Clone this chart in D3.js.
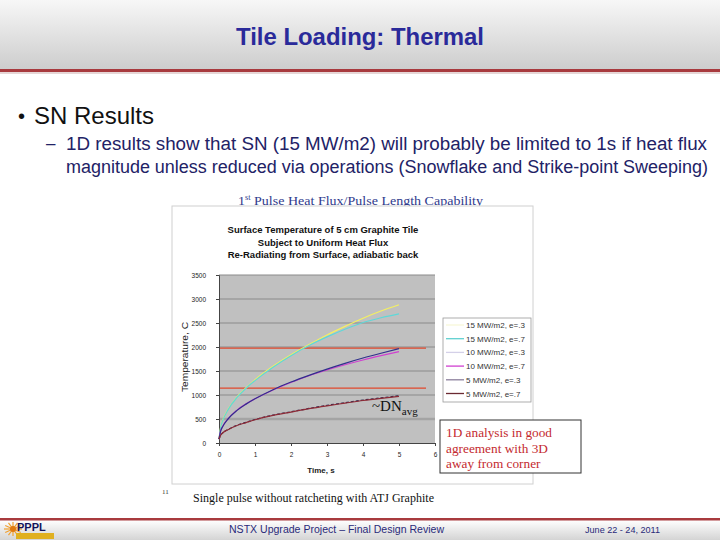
<!DOCTYPE html>
<html>
<head>
<meta charset="utf-8">
<script src="https://d3js.org/d3.v7.min.js"></script>
<style>
  body { margin: 0; background: #fff; }
  text { font-family: "Liberation Sans", Arial, sans-serif; }
  .serif { font-family: "Liberation Serif", "Times New Roman", serif; }
</style>
</head>
<body>
<div id="slide"></div>
<script>
// slide size
var width = 720,
  height = 540;

// chart data
var times = [0, 0.05, 0.1, 0.25, 0.5, 0.75, 1, 1.5, 2, 2.5, 3, 3.5, 4, 4.5, 5];
var flux15e3 = [80, 350, 470, 700, 960, 1150, 1320, 1600, 1840, 2050, 2250, 2430, 2600, 2750, 2880];
var flux15e7 = [80, 340, 460, 690, 950, 1140, 1300, 1580, 1820, 2030, 2210, 2370, 2510, 2610, 2690];
var flux10e3 = [80, 260, 340, 500, 680, 810, 920, 1110, 1270, 1410, 1540, 1660, 1770, 1870, 1965];
var flux10e7 = [80, 265, 345, 505, 685, 815, 920, 1105, 1260, 1400, 1520, 1630, 1730, 1820, 1905];
var flux5e3 = [80, 170, 210, 280, 370, 430, 490, 580, 650, 720, 785, 840, 895, 940, 985];
var flux5e7 = [80, 168, 208, 278, 365, 425, 485, 575, 645, 715, 775, 830, 885, 930, 970];

var seriesNames = ["15 MW/m2, e=.3", "15 MW/m2, e=.7", "10 MW/m2, e=.3", "10 MW/m2, e=.7", "5 MW/m2, e=.3", "5 MW/m2, e=.7"];
var seriesValues = [flux15e3, flux15e7, flux10e3, flux10e7, flux5e3, flux5e7];
var curveColors = ["#f4f060", "#5fd8d8", "#30308c", "#d040d0", "#2a2a50", "#8e2a36"];
var swatchColors = ["#f8f8d8", "#5fd0d0", "#d4d0e8", "#d040d0", "#8c7f9c", "#6b2a32"];

var yTicks = [0, 500, 1000, 1500, 2000, 2500, 3000, 3500];
var xTicks = [0, 1, 2, 3, 4, 5, 6];
var limitLines = [1975, 1145];   // horizontal red reference lines
var limitEnd = 5.75;

var svg = d3.select("#slide").append("svg")
    .attr("width", width)
    .attr("height", height);

var defs = svg.append("defs");
var hg = defs.append("linearGradient").attr("id", "headGrad")
    .attr("x1", 0).attr("y1", 0).attr("x2", 0).attr("y2", 1);
hg.append("stop").attr("offset", "0%").attr("stop-color", "#f7f7f7");
hg.append("stop").attr("offset", "100%").attr("stop-color", "#cdcdcd");
var fg = defs.append("linearGradient").attr("id", "footGrad")
    .attr("x1", 0).attr("y1", 0).attr("x2", 0).attr("y2", 1);
fg.append("stop").attr("offset", "0%").attr("stop-color", "#ffffff");
fg.append("stop").attr("offset", "100%").attr("stop-color", "#d4d4d4");

// squeeze a text to a given width, like the narrow slide font
function fit(sel, w){
  sel.attr("textLength", w).attr("lengthAdjust", "spacingAndGlyphs");
}

// header
svg.append("rect").attr("x", 0).attr("y", 0).attr("width", width).attr("height", 69)
    .attr("fill", "url(#headGrad)");
svg.append("rect").attr("x", 0).attr("y", 69).attr("width", width).attr("height", 3)
    .attr("fill", "#a83a3e");
svg.append("rect").attr("x", 0).attr("y", 72).attr("width", width).attr("height", 2)
    .attr("fill", "#e6d6d6");
svg.append("text").attr("x", 236).attr("y", 45)
    .attr("font-size", 23).attr("font-weight", "bold").attr("fill", "#2a2a9a")
    .text("Tile Loading: Thermal").call(fit, 248);

// bullets
svg.append("text").attr("x", 18).attr("y", 123).attr("font-size", 20).attr("fill", "#111").text("•");
svg.append("text").attr("x", 34).attr("y", 124).attr("font-size", 24).attr("fill", "#111")
    .text("SN Results").call(fit, 120);
svg.append("text").attr("x", 46).attr("y", 149).attr("font-size", 17).attr("fill", "#222266").text("–");
svg.append("text").attr("x", 66).attr("y", 150).attr("font-size", 18).attr("fill", "#222266")
    .text("1D results show that SN (15 MW/m2) will probably be limited to 1s if heat flux").call(fit, 641);
svg.append("text").attr("x", 66).attr("y", 173).attr("font-size", 18).attr("fill", "#222266")
    .text("magnitude unless reduced via operations (Snowflake and Strike-point Sweeping)").call(fit, 642);

// chart heading above frame
svg.append("text").attr("class", "serif").attr("x", 238).attr("y", 205)
    .attr("font-size", 13.5).attr("fill", "#2f3a8c")
    .call(function(t){
      t.append("tspan").text("1");
      t.append("tspan").attr("font-size", 8).attr("dy", -5).text("st");
      t.append("tspan").attr("dy", 5).text(" Pulse Heat Flux/Pulse Length Capability");
    })
    .call(fit, 245);

// chart frame
svg.append("rect").attr("x", 172).attr("y", 206).attr("width", 361).attr("height", 278)
    .attr("fill", "#fff").attr("stroke", "#d0d0d0").attr("stroke-width", 1);

var titleLines = ["Surface Temperature of 5 cm Graphite Tile", "Subject to Uniform Heat Flux", "Re-Radiating from Surface, adiabatic back"];
svg.selectAll("text.ctitle").data(titleLines).enter().append("text")
    .attr("class", "ctitle")
    .attr("x", 323).attr("y", function(d, i){ return 233 + i * 12.5; })
    .attr("text-anchor", "middle").attr("font-size", 9.5).attr("font-weight", "bold").attr("fill", "#111")
    .text(function(d){ return d; });

// scales
var x = d3.scaleLinear().domain([0, 6]).range([219, 435]);
var y = d3.scaleLinear().domain([0, 3500]).range([443, 275]);

svg.append("rect").attr("x", x(0)).attr("y", y(3500))
    .attr("width", x(6) - x(0)).attr("height", y(0) - y(3500))
    .attr("fill", "#c0c0c0");

// gridlines
svg.selectAll("line.grid").data(yTicks.slice(1)).enter().append("line")
    .attr("class", "grid")
    .attr("x1", x(0)).attr("x2", x(6))
    .attr("y1", function(d){ return y(d); }).attr("y2", function(d){ return y(d); })
    .attr("stroke", function(d){ return d === 500 ? "#a4a4a4" : "#8a8a8a"; })
    .attr("stroke-width", function(d){ return d === 500 ? 2.5 : 1; });

// red limit lines
svg.selectAll("line.limit").data(limitLines).enter().append("line")
    .attr("class", "limit")
    .attr("x1", x(0)).attr("x2", x(limitEnd))
    .attr("y1", function(d){ return y(d); }).attr("y2", function(d){ return y(d); })
    .attr("stroke", "#e0482c").attr("stroke-width", 1.2);

// axes
var yAxis = svg.append("g").attr("transform", "translate(" + x(0) + ",0)")
    .call(d3.axisLeft(y).tickValues(yTicks).tickFormat(d3.format("d")).tickSize(3).tickPadding(10));
var xAxis = svg.append("g").attr("transform", "translate(0," + y(0) + ")")
    .call(d3.axisBottom(x).tickValues(xTicks).tickFormat(d3.format("d")).tickSize(3).tickPadding(5));
[yAxis, xAxis].forEach(function(a){
  a.select(".domain").attr("stroke", "#444");
  a.selectAll(".tick line").attr("stroke", "#444");
  a.selectAll(".tick text").attr("font-size", 8).attr("fill", "#222")
    .attr("font-family", "'Liberation Sans', Arial, sans-serif")
    .each(function(d){
      d3.select(this).call(fit, String(d).length * 3.6);
    });
});

svg.append("text").attr("transform", "translate(188,357) rotate(-90)")
    .attr("text-anchor", "middle").attr("font-size", 9).attr("fill", "#222")
    .text("Temperature, C").call(fit, 70);
svg.append("text").attr("x", 321).attr("y", 473).attr("text-anchor", "middle")
    .attr("font-size", 8).attr("font-weight", "bold").attr("fill", "#222")
    .text("Time, s");

// curves
var line = d3.line()
    .x(function(d){ return x(d[0]); })
    .y(function(d){ return y(d[1]); })
    .curve(d3.curveMonotoneX);

var order = [0, 1, 3, 2, 4, 5];
order.forEach(function(s){
  var pts = times.map(function(t, i){ return [t, seriesValues[s][i]]; });
  svg.append("path")
    .attr("d", line(pts))
    .attr("fill", "none")
    .attr("stroke", curveColors[s])
    .attr("stroke-width", 1.2)
    .attr("stroke-dasharray", s === 4 ? "3,2" : null);
});

// ~DN avg label
svg.append("text").attr("class", "serif").attr("x", 372).attr("y", 411)
    .attr("font-size", 15).attr("fill", "#111")
    .call(function(t){
      t.append("tspan").text("~DN");
      t.append("tspan").attr("font-size", 11).attr("dy", 4).text("avg");
    });

// legend
svg.append("rect").attr("x", 443).attr("y", 318).attr("width", 88).attr("height", 84)
    .attr("fill", "#fff").attr("stroke", "#9a9a9a").attr("stroke-width", 0.8);
var leg = svg.selectAll("g.leg").data(seriesNames).enter().append("g")
    .attr("class", "leg")
    .attr("transform", function(d, i){ return "translate(446," + (325 + i * 13.7) + ")"; });
leg.append("line").attr("x1", 0).attr("x2", 18).attr("y1", 0).attr("y2", 0)
    .attr("stroke", function(d, i){ return swatchColors[i]; }).attr("stroke-width", 1.3);
leg.append("text").attr("x", 20).attr("y", 3).attr("font-size", 8).attr("fill", "#333")
    .text(function(d){ return d; });

// annotation box
svg.append("rect").attr("x", 440).attr("y", 420).attr("width", 141).attr("height", 53)
    .attr("fill", "#fff").attr("stroke", "#333").attr("stroke-width", 1);
var noteLines = ["1D analysis in good", "agreement with 3D", "away from corner"];
svg.selectAll("text.note").data(noteLines).enter().append("text")
    .attr("class", "note serif")
    .attr("x", 446).attr("y", function(d, i){ return 437 + i * 15.5; })
    .attr("font-size", 13.3).attr("fill", "#c42a30")
    .text(function(d){ return d; });

// caption
svg.append("text").attr("class", "serif").attr("x", 162).attr("y", 494)
    .attr("font-size", 7).attr("fill", "#333").text("11");
svg.append("text").attr("class", "serif").attr("x", 193).attr("y", 502)
    .attr("font-size", 12.5).attr("fill", "#111")
    .text("Single pulse without ratcheting with ATJ Graphite").call(fit, 241);

// footer
svg.append("rect").attr("x", 0).attr("y", 520).attr("width", width).attr("height", 20)
    .attr("fill", "url(#footGrad)");
svg.append("rect").attr("x", 0).attr("y", 518).attr("width", width).attr("height", 2.5)
    .attr("fill", "#a83a3e");
svg.append("text").attr("x", 229).attr("y", 533)
    .attr("font-size", 10).attr("fill", "#2a2a7a")
    .text("NSTX Upgrade Project – Final Design Review").call(fit, 215);
svg.append("text").attr("x", 585).attr("y", 533)
    .attr("font-size", 9.5).attr("fill", "#2a2a7a")
    .text("June 22 - 24, 2011").call(fit, 75);

// PPPL logo
var logo = svg.append("g").attr("transform", "translate(0,521)");
d3.range(12).forEach(function(i){
  var a = i * Math.PI / 6;
  logo.append("line")
    .attr("x1", 13).attr("y1", 8)
    .attr("x2", 13 + 9 * Math.cos(a)).attr("y2", 8 + 7 * Math.sin(a))
    .attr("stroke", "#f0a030").attr("stroke-width", 1.2);
});
logo.append("circle").attr("cx", 13).attr("cy", 8).attr("r", 3).attr("fill", "#e07a10");
logo.append("text").attr("x", 17).attr("y", 10).attr("font-size", 11).attr("font-weight", "bold")
    .attr("fill", "#14145a").text("PPPL");
logo.append("rect").attr("x", 16).attr("y", 12).attr("width", 38).attr("height", 6).attr("fill", "#e0b020");
</script>
</body>
</html>
